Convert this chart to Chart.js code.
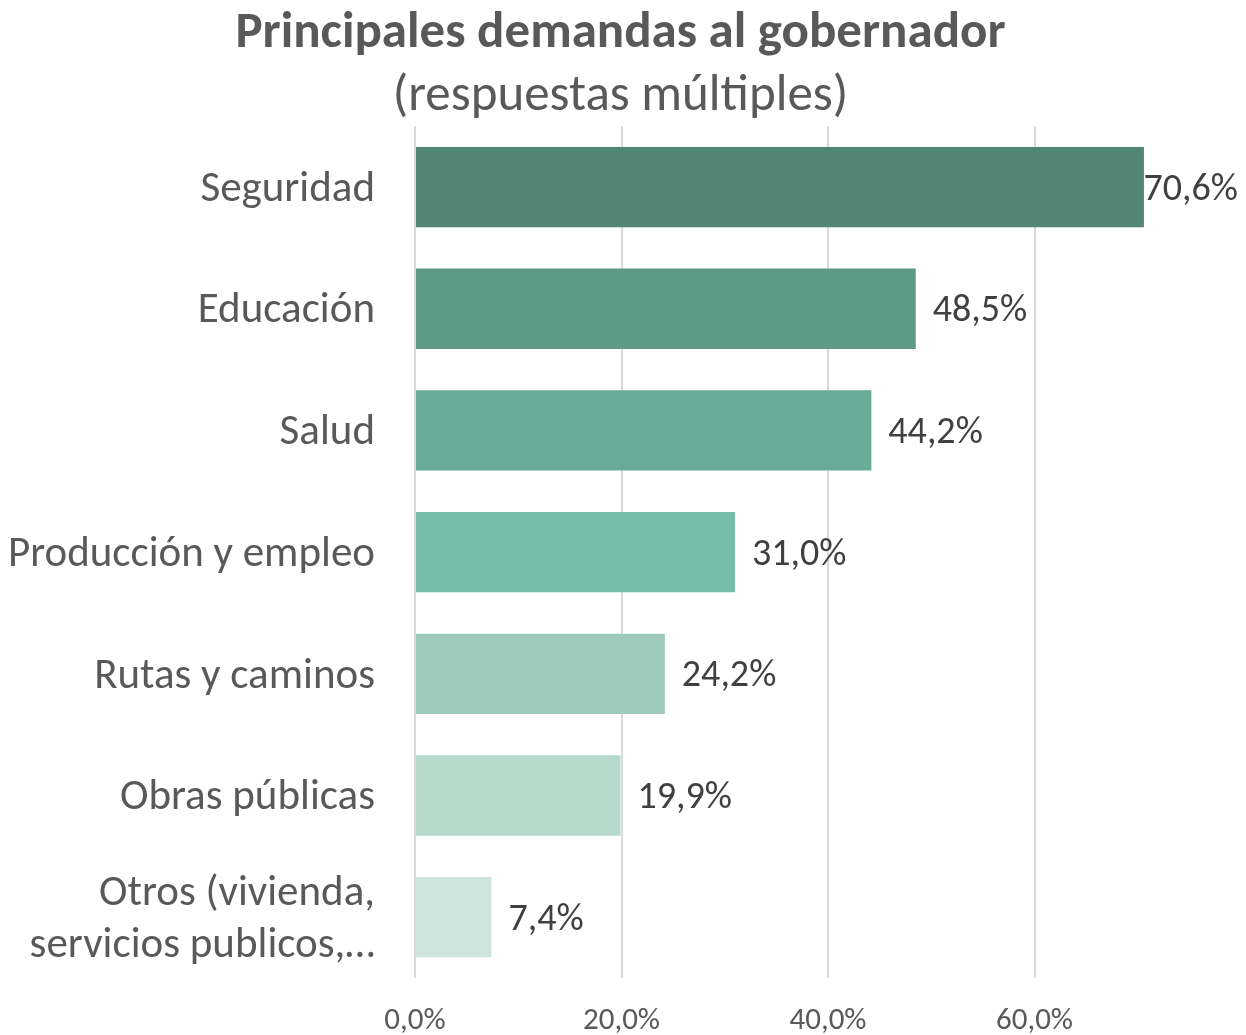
<!DOCTYPE html>
<html lang="es">
<head>
    <meta charset="UTF-8">
    <title>Principales demandas al gobernador</title>
    <style>
      html, body { margin: 0; padding: 0; background: #ffffff; }
      .chart-container { position: relative; width: 1246px; height: 1035px; }
    </style>
</head>
<body>

    <div class="chart-container">
      <canvas id="myChart"></canvas>
    </div>

    <script src="https://cdn.jsdelivr.net/npm/chart.js"></script>
    <script>
      // data
      var categories = [
        'Seguridad',
        'Educación',
        'Salud',
        'Producción y empleo',
        'Rutas y caminos',
        'Obras públicas',
        ['Otros (vivienda,', 'servicios publicos,…']
      ];
      var values = [70.6, 48.5, 44.2, 31.0, 24.2, 19.9, 7.4];
      var tickValues = [0, 20, 40, 60];

      var barColors = ['#518675', '#5e9b87', '#6aab97', '#76bda7', '#9dcaba', '#b6d9cc', '#cfe4dc'];
      var fontFamily = 'Carlito, Lato, "Open Sans", sans-serif';

      function pct(v) {
        return v.toFixed(1).replace('.', ',') + '%';
      }

      // value labels at the end of each bar
      var barLabels = {
        id: 'barLabels',
        afterDatasetsDraw: function (chart) {
          var ctx = chart.ctx;
          var meta = chart.getDatasetMeta(0);
          ctx.save();
          ctx.font = '38px ' + fontFamily;
          ctx.fillStyle = '#404040';
          ctx.textBaseline = 'middle';
          ctx.textAlign = 'left';
          meta.data.forEach(function (bar, i) {
            var txt = pct(values[i]);
            var w = ctx.measureText(txt).width;
            var x = bar.x + 17;
            if (x + w > chart.width - 8) x = chart.width - 8 - w;
            ctx.fillText(txt, x, bar.y + 3);
          });
          ctx.restore();
        }
      };

      var ctx = document.getElementById('myChart').getContext('2d');
      var myChart = new Chart(ctx, {
        type: 'bar',
        data: {
          labels: categories,
          datasets: [{
            data: values,
            backgroundColor: barColors,
            borderWidth: 0,
            barPercentage: 0.66,
            categoryPercentage: 1
          }]
        },
        options: {
          indexAxis: 'y',
          responsive: true,
          maintainAspectRatio: false,
          animation: false,
          layout: { autoPadding: false, padding: { left: 0, right: 5, top: 0, bottom: 0 } },
          plugins: {
            legend: { display: false },
            tooltip: { enabled: false },
            title: {
              display: true,
              text: 'Principales demandas al gobernador',
              color: '#595959',
              font: { family: fontFamily, size: 51, weight: 'bold', lineHeight: 1.1 },
              padding: { top: 6, bottom: 0 }
            },
            subtitle: {
              display: true,
              text: '(respuestas múltiples)',
              color: '#595959',
              font: { family: fontFamily, size: 51, lineHeight: 1.1 },
              padding: { top: 7, bottom: 1 }
            }
          },
          scales: {
            x: {
              min: 0,
              max: 80,
              afterBuildTicks: function (scale) {
                scale.ticks = tickValues.map(function (v) { return { value: v }; });
              },
              afterFit: function (scale) {
                scale.height = 57;
              },
              grid: { color: '#d9d9d9', lineWidth: 2, drawTicks: false },
              border: { display: false },
              ticks: {
                color: '#595959',
                font: { family: fontFamily, size: 31, lineHeight: 1 },
                padding: 28,
                maxRotation: 0,
                callback: function (v) { return pct(v); }
              }
            },
            y: {
              grid: { display: false, drawTicks: false },
              border: { display: false },
              afterFit: function (scale) {
                scale.width = 415;
                scale.paddingTop = 0;
                scale.paddingBottom = 0;
              },
              ticks: {
                color: '#595959',
                font: { family: fontFamily, size: 43, lineHeight: 1.2 },
                padding: 40,
                labelOffset: 3
              }
            }
          }
        },
        plugins: [barLabels]
      });
    </script>
</body>
</html>
